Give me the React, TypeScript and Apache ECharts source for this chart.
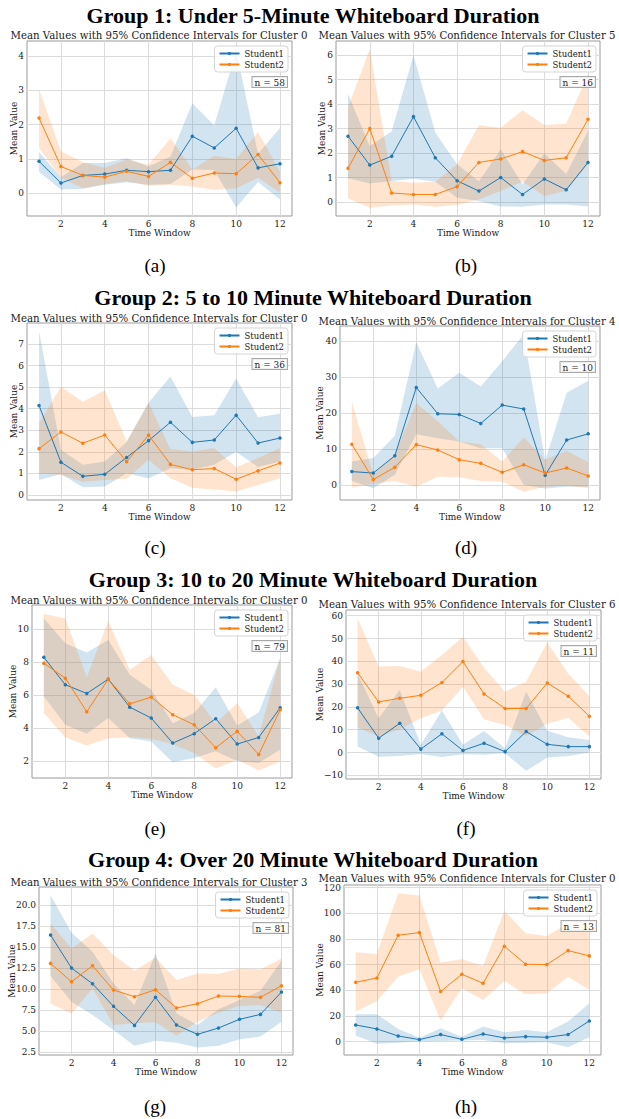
import React, { useEffect, useRef } from 'react';
import * as echarts from 'echarts';

const timeWindows = [1, 2, 3, 4, 5, 6, 7, 8, 9, 10, 11, 12];
const xTickValues = [2, 4, 6, 8, 10, 12];
const seriesNames = ['Student1', 'Student2'];
const groupTitles = [
  'Group 1: Under 5-Minute Whiteboard Duration',
  'Group 2: 5 to 10 Minute Whiteboard Duration',
  'Group 3: 10 to 20 Minute Whiteboard Duration',
  'Group 4: Over 20 Minute Whiteboard Duration',
];
const panelLetters = ['(a)', '(b)', '(c)', '(d)', '(e)', '(f)', '(g)', '(h)'];
const clusters = [0, 5, 0, 4, 0, 6, 3, 0];
const counts = [58, 16, 36, 10, 79, 11, 81, 13];

// y tick labels per panel
const aTicks = [0, 1, 2, 3, 4];
const bTicks = [0, 1, 2, 3, 4, 5, 6];
const cTicks = [0, 1, 2, 3, 4, 5, 6, 7];
const dTicks = [0, 10, 20, 30, 40];
const eTicks = [2, 4, 6, 8, 10];
const fTicks = [-10, 0, 10, 20, 30, 40, 50, 60];
const gTicks = [2.5, 5.0, 7.5, 10.0, 12.5, 15.0, 17.5, 20.0];
const hTicks = [0, 20, 40, 60, 80, 100, 120];

// (a)
const aS1 = [0.93, 0.30, 0.52, 0.56, 0.67, 0.63, 0.67, 1.66, 1.32, 1.89, 0.74, 0.86];
const aS2 = [2.19, 0.78, 0.52, 0.47, 0.64, 0.49, 0.90, 0.44, 0.59, 0.57, 1.13, 0.31];
const aS1Lo = [0.62, 0.11, 0.13, 0.25, 0.32, 0.25, 0.27, 0.69, 0.68, -0.41, 0.33, -0.18];
const aS1Hi = [1.20, 0.47, 0.88, 0.88, 1.02, 0.78, 1.07, 2.62, 1.97, 4.15, 1.15, 1.90];
const aS2Lo = [1.32, 0.45, 0.15, 0.27, 0.35, 0.22, 0.25, 0.20, 0.10, 0.15, 0.45, 0.02];
const aS2Hi = [3.03, 1.22, 0.90, 0.74, 0.98, 0.83, 1.60, 0.69, 1.09, 1.00, 1.78, 0.62];
// (b)
const bS1 = [2.69, 1.51, 1.87, 3.49, 1.81, 0.87, 0.45, 1.00, 0.31, 0.94, 0.50, 1.62];
const bS2 = [1.38, 3.00, 0.37, 0.31, 0.31, 0.63, 1.62, 1.76, 2.06, 1.70, 1.81, 3.38];
const bS1Lo = [0.97, 0.76, 0.86, 0.95, 0.83, 0.18, 0.04, -0.18, -0.19, -0.10, -0.10, -0.18];
const bS1Hi = [4.41, 2.29, 2.88, 6.00, 2.84, 1.54, 0.85, 2.16, 0.72, 1.99, 1.15, 2.90];
const bS2Lo = [0.15, -0.23, -0.14, -0.10, -0.19, -0.12, 0.10, 0.45, 0.83, 0.25, 0.45, 1.54];
const bS2Hi = [3.86, 6.25, 0.86, 0.79, 0.83, 1.54, 3.14, 3.04, 3.75, 3.15, 3.20, 5.22];
// (c)
const cS1 = [4.15, 1.52, 0.87, 0.96, 1.74, 2.52, 3.37, 2.44, 2.55, 3.70, 2.41, 2.64];
const cS2 = [2.15, 2.92, 2.40, 2.78, 1.54, 2.78, 1.42, 1.17, 1.23, 0.73, 1.12, 1.48];
const cS1Lo = [0.70, 0.98, 0.36, 0.39, 1.01, 0.78, 1.24, 1.17, 1.40, 1.99, 1.30, 1.55];
const cS1Hi = [7.59, 2.10, 1.40, 1.55, 2.46, 4.28, 5.49, 3.62, 3.70, 5.40, 3.60, 3.76];
const cS2Lo = [1.01, 0.93, 0.62, 0.70, 0.75, 1.63, 0.78, 0.34, 0.26, 0.16, 0.47, 0.78];
const cS2Hi = [3.34, 5.02, 4.32, 4.85, 2.49, 4.28, 2.13, 2.02, 2.18, 1.29, 1.71, 2.18];
// (d)
const dS1 = [3.7, 3.3, 8.1, 27.1, 19.8, 19.6, 17.1, 22.2, 21.1, 2.7, 12.5, 14.2];
const dS2 = [11.3, 1.5, 4.9, 11.2, 9.7, 7.0, 6.0, 3.5, 5.6, 3.3, 4.7, 2.5];
const dS1Lo = [1.1, -0.9, 2.8, 14.1, 13.0, 12.1, 10.2, 10.2, 0.0, -1.0, -0.5, -0.5];
const dS1Hi = [6.5, 7.5, 13.7, 39.7, 26.8, 31.2, 27.4, 34.4, 41.9, 6.8, 25.6, 29.0];
const dS2Lo = [-0.7, 0.3, 1.1, -0.5, 2.3, 2.1, 1.1, 0.9, -1.9, -0.5, -0.2, -0.9];
const dS2Hi = [23.1, 2.8, 8.4, 22.8, 17.7, 12.1, 11.3, 6.5, 13.2, 7.0, 9.5, 6.3];
// (e)
const eS1 = [8.30, 6.63, 6.10, 6.97, 5.27, 4.61, 3.09, 3.66, 4.57, 3.03, 3.43, 5.23];
const eS2 = [7.94, 7.03, 4.99, 6.97, 5.47, 5.88, 4.81, 4.20, 2.81, 3.80, 2.40, 5.11];
const eS1Lo = [5.92, 4.20, 3.66, 4.61, 3.39, 3.19, 1.92, 2.18, 2.59, 1.98, 1.88, 2.69];
const eS1Hi = [10.67, 9.15, 8.59, 9.35, 7.23, 6.32, 4.30, 4.91, 6.48, 4.16, 4.95, 8.24];
const eS2Lo = [4.91, 3.43, 2.95, 3.39, 3.45, 3.35, 3.00, 2.48, 1.54, 2.08, 1.43, 1.98];
const eS2Hi = [10.93, 10.67, 7.09, 10.50, 7.54, 8.44, 6.63, 6.02, 4.30, 5.52, 3.49, 8.24];
// (f)
const fS1 = [19.6, 6.3, 12.8, 1.5, 8.2, 0.9, 4.1, 0.4, 9.2, 3.6, 2.6, 2.6];
const fS2 = [35.0, 22.2, 23.8, 25.1, 30.7, 39.9, 25.7, 19.3, 19.3, 30.5, 24.7, 15.9];
const fS1Lo = [2.6, -1.8, -1.5, -0.6, -2.0, -0.7, -1.0, -0.3, -8.0, -2.2, -1.5, 0.0];
const fS1Hi = [34.7, 15.0, 27.4, 3.4, 18.4, 3.4, 9.5, 1.9, 26.7, 9.6, 6.7, 5.5];
const fS2Lo = [11.1, 7.0, 10.2, 15.0, 18.4, 28.9, 14.6, 12.1, 7.3, 12.6, 15.3, 7.0];
const fS2Hi = [58.8, 37.7, 38.0, 35.5, 42.8, 50.8, 37.2, 26.7, 31.1, 48.2, 34.5, 24.8];
// (g)
const gS1 = [16.47, 12.54, 10.67, 7.98, 5.71, 9.05, 5.75, 4.64, 5.40, 6.43, 7.02, 9.68];
const gS2 = [13.10, 10.91, 12.82, 9.92, 9.13, 9.96, 7.78, 8.29, 9.21, 9.17, 9.05, 10.44];
const gS1Lo = [11.59, 8.53, 6.94, 5.16, 3.29, 3.89, 3.65, 3.06, 3.29, 4.05, 4.37, 6.15];
const gS1Hi = [21.23, 16.75, 14.48, 10.71, 8.13, 14.29, 7.14, 5.75, 7.62, 8.73, 9.84, 13.41];
const gS2Lo = [8.33, 7.14, 10.12, 5.75, 5.95, 6.07, 4.48, 6.15, 7.22, 8.02, 8.13, 7.22];
const gS2Hi = [17.86, 14.88, 16.67, 14.09, 12.22, 13.81, 11.11, 11.90, 11.83, 12.50, 12.38, 13.69];
// (h)
const hS1 = [13.0, 9.9, 4.4, 1.6, 5.5, 1.8, 6.0, 2.9, 3.9, 3.4, 5.5, 16.1];
const hS2 = [46.2, 49.6, 82.9, 84.9, 39.0, 52.5, 45.5, 74.3, 60.3, 60.0, 70.9, 66.8];
const hS1Lo = [4.7, -1.6, -0.8, 0.3, 0.5, 0.8, 1.3, -1.3, -0.8, -0.5, -4.4, 3.4];
const hS1Hi = [21.3, 21.3, 9.9, 3.0, 10.4, 3.9, 11.7, 7.3, 9.1, 7.3, 15.6, 29.9];
const hS2Lo = [23.4, 31.7, 50.6, 56.6, 16.4, 41.6, 32.5, 47.3, 36.9, 37.7, 50.6, 40.3];
const hS2Hi = [69.6, 68.3, 115.6, 113.8, 61.6, 64.2, 59.2, 101.8, 84.4, 82.3, 92.2, 94.8];

const panelData = [
  { s1: aS1, s2: aS2, s1Lo: aS1Lo, s1Hi: aS1Hi, s2Lo: aS2Lo, s2Hi: aS2Hi, ticks: aTicks },
  { s1: bS1, s2: bS2, s1Lo: bS1Lo, s1Hi: bS1Hi, s2Lo: bS2Lo, s2Hi: bS2Hi, ticks: bTicks },
  { s1: cS1, s2: cS2, s1Lo: cS1Lo, s1Hi: cS1Hi, s2Lo: cS2Lo, s2Hi: cS2Hi, ticks: cTicks },
  { s1: dS1, s2: dS2, s1Lo: dS1Lo, s1Hi: dS1Hi, s2Lo: dS2Lo, s2Hi: dS2Hi, ticks: dTicks },
  { s1: eS1, s2: eS2, s1Lo: eS1Lo, s1Hi: eS1Hi, s2Lo: eS2Lo, s2Hi: eS2Hi, ticks: eTicks },
  { s1: fS1, s2: fS2, s1Lo: fS1Lo, s1Hi: fS1Hi, s2Lo: fS2Lo, s2Hi: fS2Hi, ticks: fTicks },
  { s1: gS1, s2: gS2, s1Lo: gS1Lo, s1Hi: gS1Hi, s2Lo: gS2Lo, s2Hi: gS2Hi, ticks: gTicks },
  { s1: hS1, s2: hS2, s1Lo: hS1Lo, s1Hi: hS1Hi, s2Lo: hS2Lo, s2Hi: hS2Hi, ticks: hTicks },
];

// y-axis ranges (min, max, decimals of tick labels)
const yScales = [
  { min: -0.66, max: 4.43, dec: 0 },
  { min: -0.57, max: 6.58, dec: 0 },
  { min: -0.23, max: 7.97, dec: 0 },
  { min: -4.2, max: 44.2, dec: 0 },
  { min: 0.97, max: 11.47, dec: 0 },
  { min: -11.6, max: 62.5, dec: 0 },
  { min: 2.18, max: 22.2, dec: 1 },
  { min: -10.4, max: 122, dec: 0 },
];
const xMin = 0.45;
const xMax = 12.55;

// layout
const grids = [
  { left: 27, top: 41, width: 265, height: 175, titleY: 35, nameGap: 9 },
  { left: 336, top: 41, width: 264, height: 175, titleY: 35, nameGap: 10 },
  { left: 27, top: 323, width: 265, height: 177, titleY: 318, nameGap: 9 },
  { left: 340, top: 326, width: 260, height: 174, titleY: 321, nameGap: 16 },
  { left: 32, top: 605, width: 260, height: 173, titleY: 600, nameGap: 15 },
  { left: 346, top: 610, width: 255, height: 169, titleY: 604, nameGap: 22 },
  { left: 39, top: 887, width: 254, height: 168, titleY: 882, nameGap: 23 },
  { left: 344, top: 885, width: 257, height: 170, titleY: 878, nameGap: 20 },
];
const groupTitleY = [15, 297, 579, 859];
const letterY = [265, 547, 828, 1106];
const letterX = [155, 466];
const titleX = [159, 467];

const BLUE = '#1f77b4';
const ORANGE = '#ff7f0e';
const BLUE_BAND = 'rgba(31,119,180,0.2)';
const ORANGE_BAND = 'rgba(255,127,14,0.2)';
const SERIF = '"DejaVu Serif", serif';
const TEXT = '#1a1a1a';
const GRIDLINE = '#dcdcdc';

const fmtNum = (v: number, dec: number) => {
  const s = Math.abs(v).toFixed(dec);
  return v < -1e-9 ? '\u2212' + s : s;
};

function bandSeries(gi: number, lo: number[], hi: number[], fill: string) {
  return {
    type: 'custom',
    xAxisIndex: gi,
    yAxisIndex: gi,
    silent: true,
    z: 1,
    data: timeWindows.map((t, i) => [t, lo[i], hi[i]]),
    encode: { x: 0, y: [1, 2] },
    renderItem: (params: any, api: any) => {
      if (params.dataIndex !== 0) return null;
      const pts: number[][] = [];
      for (let i = 0; i < timeWindows.length; i++) pts.push(api.coord([timeWindows[i], hi[i]]));
      for (let i = timeWindows.length - 1; i >= 0; i--) pts.push(api.coord([timeWindows[i], lo[i]]));
      return { type: 'polygon', shape: { points: pts }, style: { fill, stroke: 'none' } };
    },
  };
}

function lineSeries(gi: number, name: string, vals: number[], color: string) {
  return {
    type: 'line',
    name,
    xAxisIndex: gi,
    yAxisIndex: gi,
    z: 3,
    data: timeWindows.map((t, i) => [t, vals[i]]),
    symbol: 'circle',
    symbolSize: 3.5,
    showSymbol: true,
    lineStyle: { color, width: 1 },
    itemStyle: { color },
    emphasis: { disabled: true },
  };
}

function buildOption() {
  const grid: any[] = [];
  const xAxis: any[] = [];
  const yAxis: any[] = [];
  const series: any[] = [];
  const legend: any[] = [];
  const graphic: any[] = [];

  grids.forEach((g, gi) => {
    const ys = yScales[gi];
    const d = panelData[gi];
    grid.push({
      left: g.left,
      top: g.top,
      width: g.width,
      height: g.height,
      show: true,
      borderColor: '#9a9a9a',
      borderWidth: 1,
      backgroundColor: 'transparent',
      containLabel: false,
    });
    xAxis.push({
      type: 'value',
      gridIndex: gi,
      min: xMin,
      max: xMax,
      name: 'Time Window',
      nameLocation: 'middle',
      nameGap: 12,
      nameMoveOverlap: false,
      nameTextStyle: { fontFamily: SERIF, fontSize: 9, color: TEXT },
      axisLine: { show: false },
      axisTick: { show: false, customValues: xTickValues },
      axisLabel: {
        customValues: xTickValues,
        fontFamily: SERIF,
        fontSize: 9,
        color: TEXT,
        margin: 3,
        formatter: (v: number) => String(v),
      },
      splitLine: { show: true, lineStyle: { color: GRIDLINE, width: 1 } },
    });
    yAxis.push({
      type: 'value',
      gridIndex: gi,
      min: ys.min,
      max: ys.max,
      name: 'Mean Value',
      nameLocation: 'middle',
      nameGap: g.nameGap,
      nameMoveOverlap: false,
      nameRotate: 90,
      nameTextStyle: { fontFamily: SERIF, fontSize: 9, color: TEXT },
      axisLine: { show: false },
      axisTick: { show: false, customValues: d.ticks },
      axisLabel: {
        customValues: d.ticks,
        fontFamily: SERIF,
        fontSize: 9,
        color: TEXT,
        margin: 3,
        formatter: (v: number) => fmtNum(v, ys.dec),
      },
      splitLine: { show: true, lineStyle: { color: GRIDLINE, width: 1 } },
    });
    series.push(bandSeries(gi, d.s1Lo, d.s1Hi, BLUE_BAND));
    series.push(bandSeries(gi, d.s2Lo, d.s2Hi, ORANGE_BAND));
    series.push(lineSeries(gi, seriesNames[0], d.s1, BLUE));
    series.push(lineSeries(gi, seriesNames[1], d.s2, ORANGE));

    const gridRight = g.left + g.width;
    legend.push({
      data: seriesNames,
      orient: 'vertical',
      right: 619 - (gridRight - 4),
      top: g.top + 5,
      itemWidth: 20,
      itemHeight: 4,
      itemGap: 2,
      padding: [3, 4, 3, 4],
      borderColor: '#d5d5d5',
      borderWidth: 1,
      borderRadius: 3,
      backgroundColor: 'rgba(255,255,255,0.8)',
      selectedMode: false,
      textStyle: { fontFamily: SERIF, fontSize: 8.5, color: TEXT, lineHeight: 9 },
    });

    graphic.push({
      type: 'text',
      x: titleX[gi % 2],
      y: g.titleY,
      silent: true,
      style: {
        text: `Mean Values with 95% Confidence Intervals for Cluster ${clusters[gi]}`,
        fontFamily: SERIF,
        fontSize: 10.2,
        fill: TEXT,
        align: 'center',
        verticalAlign: 'middle',
      },
    });
    graphic.push({
      type: 'text',
      x: gridRight - 5,
      y: g.top + 36,
      silent: true,
      z: 10,
      style: {
        text: `n = ${counts[gi]}`,
        fontFamily: SERIF,
        fontSize: 9,
        fill: TEXT,
        align: 'right',
        verticalAlign: 'top',
        padding: [1, 2, 0, 2],
        borderColor: '#a8a8a8',
        borderWidth: 1,
        backgroundColor: 'rgba(255,255,255,0.8)',
      },
    });
    graphic.push({
      type: 'text',
      x: letterX[gi % 2],
      y: letterY[Math.floor(gi / 2)],
      silent: true,
      style: {
        text: panelLetters[gi],
        fontFamily: '"Liberation Serif", serif',
        fontSize: 19,
        fill: '#000',
        align: 'center',
        verticalAlign: 'middle',
      },
    });
  });

  groupTitles.forEach((t, i) => {
    graphic.push({
      type: 'text',
      x: 313,
      y: groupTitleY[i],
      silent: true,
      style: {
        text: t,
        fontFamily: '"Liberation Serif", serif',
        fontWeight: 'bold',
        fontSize: 22,
        fill: '#000',
        align: 'center',
        verticalAlign: 'middle',
      },
    });
  });

  return {
    animation: false,
    backgroundColor: '#ffffff',
    textStyle: { fontFamily: SERIF },
    grid,
    xAxis,
    yAxis,
    series,
    legend,
    graphic,
  };
}

export default function App() {
  const ref = useRef<HTMLDivElement>(null);
  useEffect(() => {
    document.body.style.margin = '0';
    if (!ref.current) return;
    const chart = echarts.init(ref.current, undefined, { renderer: 'svg' });
    chart.setOption(buildOption() as any);
    return () => chart.dispose();
  }, []);
  return (
    <div
      ref={ref}
      style={{ position: 'absolute', left: 0, top: 0, width: 619, height: 1119, background: '#fff' }}
    />
  );
}
